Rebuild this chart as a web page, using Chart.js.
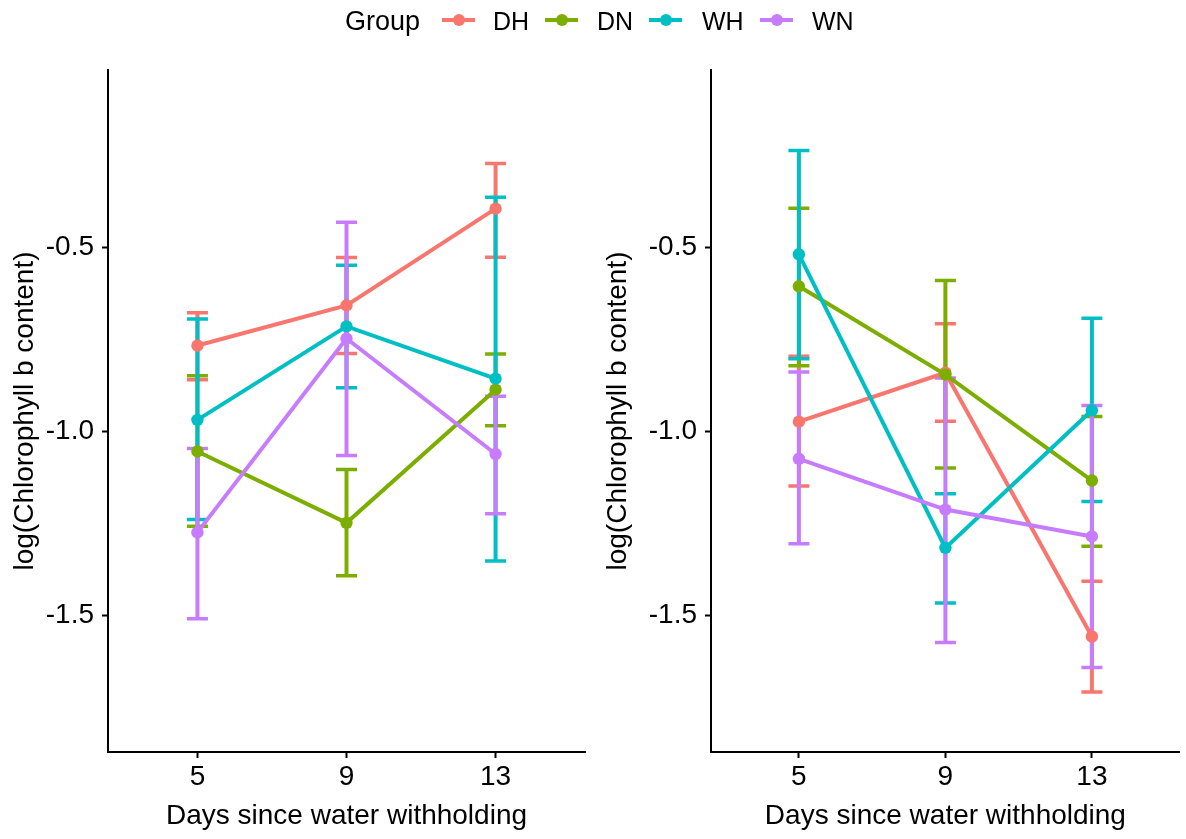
<!DOCTYPE html>
<html>
<head>
<meta charset="utf-8">
<script src="https://cdn.jsdelivr.net/npm/chart.js@4.4.0/dist/chart.umd.min.js"></script>
<style>
  html, body { margin: 0; padding: 0; background: #fff; }
  #wrap { position: relative; width: 1186px; height: 839px; overflow: hidden; font-family: "Liberation Sans", Arial, sans-serif; }
  .cv { position: absolute; top: 0; }
  .lg { position: absolute; font-size: 25px; color: #000; line-height: 1; white-space: nowrap; }
  .key { position: absolute; height: 4px; }
  .dot { position: absolute; width: 12px; height: 12px; border-radius: 50%; }
</style>
</head>
<body>
<div id="wrap">
  <canvas id="left" class="cv" width="593" height="839" style="left:0px"></canvas>
  <canvas id="right" class="cv" width="593" height="839" style="left:593px"></canvas>
  <div id="legend"></div>
</div>
<script>
// ---- data ----
const days = ['5', '9', '13'];
const groups = ['DH', 'DN', 'WH', 'WN'];
const colors = ['#F8766D', '#7CAE00', '#00BFC4', '#C77CFF'];
const yTicks = [-1.5, -1.0, -0.5];
const yTitle = 'log(Chlorophyll b content)';
const xTitle = 'Days since water withholding';

// Left panel
const leftDH_mean = [-0.766, -0.657, -0.394];
const leftDH_lo   = [-0.859, -0.788, -0.526];
const leftDH_hi   = [-0.677, -0.527, -0.271];
const leftDN_mean = [-1.054, -1.248, -0.886];
const leftDN_lo   = [-1.257, -1.392, -0.984];
const leftDN_hi   = [-0.848, -1.103, -0.789];
const leftWH_mean = [-0.968, -0.714, -0.856];
const leftWH_lo   = [-1.239, -0.881, -1.352];
const leftWH_hi   = [-0.694, -0.548, -0.363];
const leftWN_mean = [-1.274, -0.747, -1.061];
const leftWN_lo   = [-1.509, -1.065, -1.223];
const leftWN_hi   = [-1.046, -0.431, -0.904];

// Right panel
const rightDH_mean = [-0.973, -0.840, -1.557];
const rightDH_lo   = [-1.148, -0.972, -1.708];
const rightDH_hi   = [-0.795, -0.707, -1.407];
const rightDN_mean = [-0.605, -0.845, -1.133];
const rightDN_lo   = [-0.821, -1.099, -1.312];
const rightDN_hi   = [-0.393, -0.589, -0.959];
const rightWH_mean = [-0.518, -1.316, -0.942];
const rightWH_lo   = [-0.802, -1.466, -1.190];
const rightWH_hi   = [-0.236, -1.169, -0.692];
const rightWN_mean = [-1.074, -1.212, -1.285];
const rightWN_lo   = [-1.305, -1.573, -1.641];
const rightWN_hi   = [-0.838, -0.854, -0.929];

const leftPanel = {
  mean: [leftDH_mean, leftDN_mean, leftWH_mean, leftWN_mean],
  lo:   [leftDH_lo, leftDN_lo, leftWH_lo, leftWN_lo],
  hi:   [leftDH_hi, leftDN_hi, leftWH_hi, leftWN_hi]
};
const rightPanel = {
  mean: [rightDH_mean, rightDN_mean, rightWH_mean, rightWN_mean],
  lo:   [rightDH_lo, rightDN_lo, rightWH_lo, rightWN_lo],
  hi:   [rightDH_hi, rightDN_hi, rightWH_hi, rightWN_hi]
};

// ---- styling ----
const FONT = '"Liberation Sans", Arial, sans-serif';
const Y_MIN = -1.871, Y_MAX = -0.017;

const errorBarPlugin = {
  id: 'errorBars',
  beforeDatasetsDraw(chart, args, opts) {
    const panel = opts.panel;
    const xs = chart.scales.x, ys = chart.scales.y;
    const ctx = chart.ctx;
    ctx.save();
    ctx.lineCap = 'butt';
    for (let g = 0; g < groups.length; g++) {
      ctx.strokeStyle = colors[g];
      for (let i = 0; i < days.length; i++) {
        const px = xs.getPixelForValue(i + 1);
        const pLo = ys.getPixelForValue(panel.lo[g][i]);
        const pHi = ys.getPixelForValue(panel.hi[g][i]);
        ctx.lineWidth = 4;
        ctx.beginPath();
        ctx.moveTo(px, pLo); ctx.lineTo(px, pHi);
        ctx.stroke();
        ctx.lineWidth = 3.5;
        ctx.beginPath();
        ctx.moveTo(px - 10.5, pLo); ctx.lineTo(px + 10.5, pLo);
        ctx.moveTo(px - 10.5, pHi); ctx.lineTo(px + 10.5, pHi);
        ctx.stroke();
      }
    }
    ctx.restore();
  }
};

function makeChart(id, panel, yWidth, padRight) {
  const datasets = groups.map((g, k) => ({
    label: g,
    data: panel.mean[k].map((v, i) => ({ x: i + 1, y: v })),
    borderColor: colors[k],
    backgroundColor: colors[k],
    pointBackgroundColor: colors[k],
    pointBorderWidth: 0,
    pointRadius: 6.2,
    borderWidth: 4,
    tension: 0,
    order: groups.length - k
  }));
  return new Chart(document.getElementById(id), {
    type: 'line',
    data: { datasets },
    plugins: [errorBarPlugin],
    options: {
      responsive: false,
      animation: false,
      layout: { padding: { top: 70, right: padRight, left: 0, bottom: 0 } },
      plugins: {
        legend: { display: false },
        tooltip: { enabled: false },
        errorBars: { panel }
      },
      scales: {
        x: {
          type: 'linear',
          min: 0.4, max: 3.6,
          afterBuildTicks: s => { s.ticks = days.map((d, i) => ({ value: i + 1 })); },
          afterFit: s => { s.height = 87; },
          ticks: {
            callback: v => days[v - 1],
            color: '#000',
            font: { family: FONT, size: 28 },
            padding: 2,
            maxRotation: 0,
            autoSkip: false
          },
          grid: { drawOnChartArea: false, drawTicks: true, tickLength: 6, tickWidth: 2, tickColor: '#000' },
          border: { display: true, color: '#000', width: 2 },
          title: { display: true, text: xTitle, color: '#000', font: { family: FONT, size: 28 }, padding: { top: 0, bottom: 6 } }
        },
        y: {
          type: 'linear',
          min: Y_MIN, max: Y_MAX,
          afterBuildTicks: s => { s.ticks = yTicks.map(v => ({ value: v })); },
          afterFit: s => { s.width = yWidth; },
          ticks: {
            callback: v => v.toFixed(1),
            color: '#000',
            font: { family: FONT, size: 28 },
            padding: 8
          },
          grid: { drawOnChartArea: false, drawTicks: true, tickLength: 6, tickWidth: 2, tickColor: '#000' },
          border: { display: true, color: '#000', width: 2 },
          title: { display: true, text: yTitle, color: '#000', font: { family: FONT, size: 28 }, padding: { top: 8 } }
        }
      }
    }
  });
}

makeChart('left', leftPanel, 108, 8);
makeChart('right', rightPanel, 118, 0);

// ---- legend (HTML) ----
const legend = document.getElementById('legend');
const title = document.createElement('div');
title.className = 'lg';
title.textContent = 'Group';
title.style.left = '345px';
title.style.top = '8px';
title.style.fontSize = '27px';
legend.appendChild(title);
const keyLeft = [442, 545, 649, 760];
const textLeft = [493, 597, 702, 812];
groups.forEach((g, k) => {
  const line = document.createElement('div');
  line.className = 'key';
  line.style.left = keyLeft[k] + 'px';
  line.style.width = '33px';
  line.style.top = '18px';
  line.style.background = colors[k];
  legend.appendChild(line);
  const dot = document.createElement('div');
  dot.className = 'dot';
  dot.style.left = (keyLeft[k] + 16.5 - 6) + 'px';
  dot.style.top = '14px';
  dot.style.background = colors[k];
  legend.appendChild(dot);
  const t = document.createElement('div');
  t.className = 'lg';
  t.textContent = g;
  t.style.left = textLeft[k] + 'px';
  t.style.top = '9px';
  legend.appendChild(t);
});
</script>
</body>
</html>
